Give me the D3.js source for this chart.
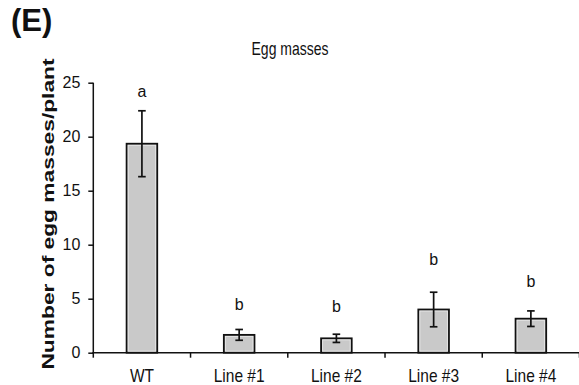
<!DOCTYPE html>
<html>
<head>
<meta charset="utf-8">
<script src="https://cdn.jsdelivr.net/npm/d3@7"></script>
<style>
	body { margin: 0; background: #fff; }
	svg { display: block; font-family: "Liberation Sans", Arial, sans-serif; }
</style>
</head>
<body>
<svg id="chart" width="579" height="385"></svg>
<script>
// Values
const lines = ["WT", "Line #1", "Line #2", "Line #3", "Line #4"];
const eggMasses = [19.35, 1.65, 1.33, 4.0, 3.15];
const errors = [3.05, 0.5, 0.38, 1.6, 0.72];
const letters = ["a", "b", "b", "b", "b"];
const letterAt = [23.65, 3.95, 3.74, 8.12, 6.05];
const yTicks = [0, 5, 10, 15, 20, 25];

function whenDocumentLoaded(action) {
	if (document.readyState === "loading") {
		document.addEventListener("DOMContentLoaded", action);
	} else {
		action();
	}
}

function drawChart() {
	const svg = d3.select("#chart");
	const left = 93.3, right = 579.5, top = 82.7, bottom = 352.7;
	const ink = "#111";

	const x = d3.scaleBand().domain(lines).range([left, right]).padding(0);
	const y = d3.scaleLinear().domain([0, 25]).range([bottom, top]);
	const barW = x.bandwidth() * 0.315;
	const mid = (d) => x(d.name) + x.bandwidth() / 2;

	const rows = lines.map((name, i) => ({
		name, value: eggMasses[i], err: errors[i], letter: letters[i], at: letterAt[i],
	}));

	// bars (dark outline with a thin light inner edge)
	const bars = svg.append("g");
	bars.selectAll("rect.bar")
		.data(rows)
		.join("rect")
		.attr("class", "bar")
		.attr("x", (d) => mid(d) - barW / 2)
		.attr("y", (d) => y(d.value))
		.attr("width", barW)
		.attr("height", (d) => y(0) - y(d.value))
		.attr("fill", "#c9c9c9")
		.attr("stroke", ink)
		.attr("stroke-width", 1.8);
	bars.selectAll("rect.inner")
		.data(rows)
		.join("rect")
		.attr("class", "inner")
		.attr("x", (d) => mid(d) - barW / 2 + 1.6)
		.attr("y", (d) => y(d.value) + 1.6)
		.attr("width", barW - 3.2)
		.attr("height", (d) => Math.max(0, y(0) - y(d.value) - 3.2))
		.attr("fill", "none")
		.attr("stroke", "#e8e8e8")
		.attr("stroke-width", 0.8);

	// error bars
	const eb = svg.append("g").attr("stroke", ink).attr("stroke-width", 1.7);
	rows.forEach((d) => {
		const cx = mid(d);
		const y1 = y(d.value + d.err), y2 = y(d.value - d.err);
		eb.append("line").attr("x1", cx).attr("x2", cx).attr("y1", y1).attr("y2", y2);
		eb.append("line").attr("x1", cx - 3.8).attr("x2", cx + 3.8).attr("y1", y1).attr("y2", y1);
		eb.append("line").attr("x1", cx - 3.8).attr("x2", cx + 3.8).attr("y1", y2).attr("y2", y2);
	});

	// significance letters
	svg.append("g")
		.attr("text-anchor", "middle")
		.style("font-size", "16px")
		.attr("fill", ink)
		.selectAll("text")
		.data(rows)
		.join("text")
		.attr("x", mid)
		.attr("y", (d) => y(d.at))
		.text((d) => d.letter);

	// y axis
	const yAxis = svg.append("g")
		.attr("transform", `translate(${left},0)`)
		.call(d3.axisLeft(y).tickValues(yTicks).tickSize(5).tickPadding(8));
	yAxis.select(".domain").attr("d", `M0,${top}V${bottom}`).attr("stroke", ink).attr("stroke-width", 1.5);
	yAxis.selectAll(".tick line").attr("stroke", ink).attr("stroke-width", 1.5);
	yAxis.selectAll(".tick text")
		.style("font-size", "16px")
		.style("font-family", "'Liberation Sans', Arial, sans-serif")
		.attr("fill", ink);

	// x axis: labels centred, ticks at band edges
	const xAxis = svg.append("g")
		.attr("transform", `translate(0,${bottom})`)
		.call(d3.axisBottom(x).tickSize(0).tickPadding(0));
	xAxis.select(".domain").remove();
	xAxis.selectAll(".tick text")
		.attr("y", 0)
		.attr("dy", 0)
		.attr("transform", "translate(0,29) scale(1,1.2)")
		.style("font-size", "15.5px")
		.style("font-family", "'Liberation Sans', Arial, sans-serif")
		.attr("fill", ink);

	svg.append("line")
		.attr("x1", left - 1).attr("x2", right)
		.attr("y1", bottom).attr("y2", bottom)
		.attr("stroke", ink).attr("stroke-width", 1.5);
	svg.append("g")
		.selectAll("line")
		.data(lines.concat(["end"]))
		.join("line")
		.attr("x1", (d, i) => left + i * x.step())
		.attr("x2", (d, i) => left + i * x.step())
		.attr("y1", bottom)
		.attr("y2", bottom + 5)
		.attr("stroke", ink)
		.attr("stroke-width", 1.5);

	// y label
	svg.append("text")
		.attr("transform", "translate(53.5,214) scale(1,1.38) rotate(-90)")
		.attr("text-anchor", "middle")
		.style("font-size", "16.5px")
		.style("font-weight", "bold")
		.attr("fill", ink)
		.text("Number of egg masses/plant");

	// title
	svg.append("text")
		.attr("transform", "translate(290,55) scale(1,1.3)")
		.attr("text-anchor", "middle")
		.style("font-size", "14px")
		.attr("fill", ink)
		.text("Egg masses");

	// panel letter
	svg.append("text")
		.attr("x", 11)
		.attr("y", 31)
		.style("font-size", "31px")
		.style("font-weight", "bold")
		.attr("fill", ink)
		.text("(E)");
}

whenDocumentLoaded(drawChart);
</script>
</body>
</html>
